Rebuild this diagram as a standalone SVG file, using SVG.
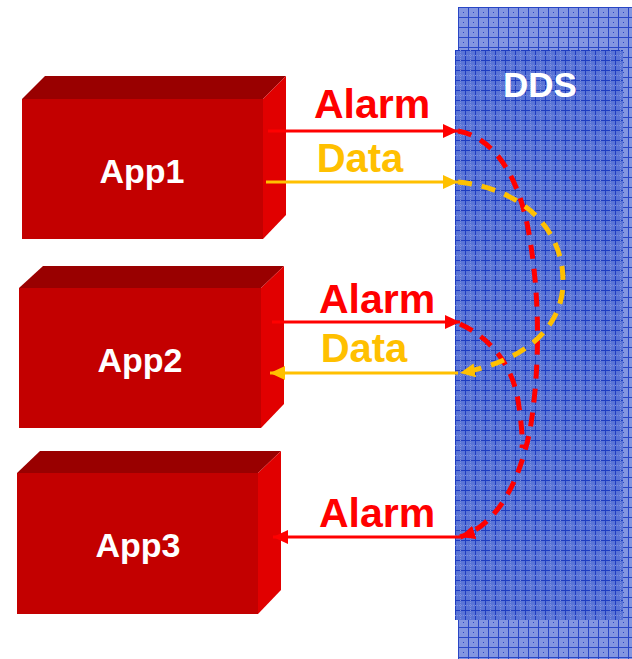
<svg xmlns="http://www.w3.org/2000/svg" width="632" height="659" viewBox="0 0 632 659">
<style>
.front{fill:#c30000}
.top{fill:#990000}
.side{fill:#e10000}
.lbl{font-family:"Liberation Sans",Arial,sans-serif;font-weight:bold;fill:#ffffff;text-anchor:middle}
.ctext{font-family:"Liberation Sans",Arial,sans-serif;font-weight:bold}
.red{stroke:#ff0000;fill:none}
.yel{stroke:#ffc000;fill:none}
.solid{stroke-width:3}
.dash{stroke-width:5;stroke-dasharray:14 10}
</style>
<defs>
<pattern id="gridOuter" width="10" height="10" patternUnits="userSpaceOnUse" x="458" y="7">
<rect width="10" height="10" fill="#8396e1"/>
<path d="M0,0.5 H10 M0.5,0 V10" stroke="#2846c6" stroke-width="1"/>
<rect x="5" y="5" width="1" height="1" fill="#2846c6"/>
</pattern>
<pattern id="gridInner" width="10" height="10" patternUnits="userSpaceOnUse" x="455" y="50">
<rect width="10" height="10" fill="#5a74d6"/>
<path d="M0,0.5 H10 M0.5,0 V10" stroke="#1e3cc0" stroke-width="1"/>
<path d="M0,5.5 H10 M5.5,0 V10" stroke="#7d90de" stroke-width="1" stroke-dasharray="1 1"/>
</pattern>
<marker id="arR" markerUnits="userSpaceOnUse" markerWidth="16" markerHeight="14" refX="15" refY="7" orient="auto">
<path d="M0,0 L15,7 L0,14 z" fill="#ff0000"/>
</marker>
<marker id="arY" markerUnits="userSpaceOnUse" markerWidth="16" markerHeight="14" refX="15" refY="7" orient="auto">
<path d="M0,0 L15,7 L0,14 z" fill="#ffc000"/>
</marker>
</defs>

<g id="dds">
<rect x="458" y="7" width="174" height="652" fill="url(#gridOuter)"/>
<rect x="455" y="50" width="168" height="570" fill="url(#gridInner)"/>
<text x="540" y="97" class="lbl" font-size="35">DDS</text>
</g>

<g id="app1">
<polygon class="top" points="22,99 45,76 286,76 263,99"/>
<polygon class="side" points="263,99 286,76 286,215 263,239"/>
<rect class="front" x="22" y="99" width="241" height="140"/>
<text x="142" y="183" class="lbl" font-size="34">App1</text>
</g>

<g id="app2">
<polygon class="top" points="19,288 43,266 284,266 261,288"/>
<polygon class="side" points="261,288 284,266 284,404 261,428"/>
<rect class="front" x="19" y="288" width="242" height="140"/>
<text x="140" y="372" class="lbl" font-size="34">App2</text>
</g>

<g id="app3">
<polygon class="top" points="17,473 40,451 281,451 258,473"/>
<polygon class="side" points="258,473 281,451 281,590 258,614"/>
<rect class="front" x="17" y="473" width="241" height="141"/>
<text x="138" y="557" class="lbl" font-size="34">App3</text>
</g>

<g id="connectors">
<line class="red solid" x1="268" y1="131" x2="458" y2="131" marker-end="url(#arR)"/>
<text x="372" y="118" class="ctext" font-size="41" fill="#ff0000" text-anchor="middle">Alarm</text>
<line class="yel solid" x1="266" y1="182" x2="458" y2="182" marker-end="url(#arY)"/>
<text x="360" y="172" class="ctext" font-size="40" fill="#ffc000" text-anchor="middle">Data</text>

<line class="red solid" x1="272" y1="322" x2="460" y2="322" marker-end="url(#arR)"/>
<text x="377" y="313" class="ctext" font-size="41" fill="#ff0000" text-anchor="middle">Alarm</text>
<line class="yel solid" x1="458" y1="373" x2="270" y2="373" marker-end="url(#arY)"/>
<text x="364" y="362" class="ctext" font-size="40" fill="#ffc000" text-anchor="middle">Data</text>

<line class="red solid" x1="460" y1="537" x2="273" y2="537" marker-end="url(#arR)"/>
<text x="377" y="527" class="ctext" font-size="41" fill="#ff0000" text-anchor="middle">Alarm</text>

<path class="red dash" d="M458,131 C498,138 522,185 530,240 C540,300 540,370 530,430 C520,480 498,525 460,537" marker-end="url(#arR)"/>
<path class="red dash" d="M460,324 C495,340 513,370 518,400 C521,420 523,438 522,448"/>
<path class="yel dash" d="M458,182 C520,188 565,228 563,285 C561,330 522,362 460,373" marker-end="url(#arY)"/>
</g>
</svg>
